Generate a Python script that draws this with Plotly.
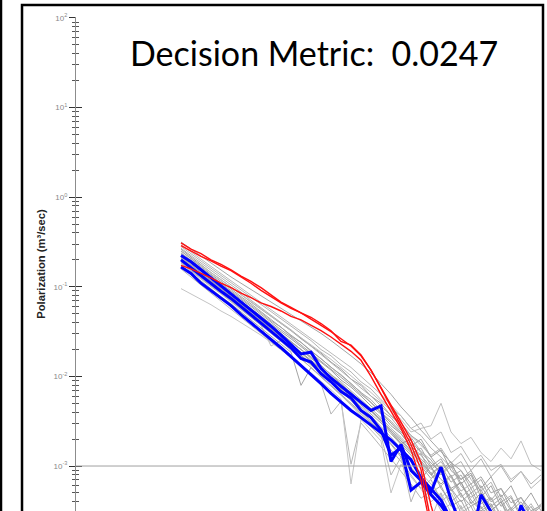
import plotly.graph_objects as go

# Time-gate index (gates are evenly spaced along the hidden time axis)
gates = list(range(37))

# log10 of polarization (m^3/sec)
red_a = [-0.54,-0.60,-0.66,-0.71,-0.77,-0.82,-0.89,-0.96,-1.04,-1.11,-1.18,-1.24,-1.29,-1.36,-1.43,-1.50,-1.58,-1.66,-1.77,-1.93,-2.13,-2.34,-2.54,-2.76,-3.04,-3.60,-4.20]
red_b = [-0.51,-0.58,-0.63,-0.70,-0.75,-0.81,-0.88,-0.94,-1.01,-1.09,-1.17,-1.23,-1.29,-1.34,-1.41,-1.49,-1.61,-1.65,-1.76,-1.93,-2.13,-2.32,-2.51,-2.71,-2.96,-3.44,-3.83,-4.20]
red_c = [-0.76,-0.80,-0.85,-0.90,-0.96,-1.01,-1.07,-1.12,-1.18,-1.22,-1.27,-1.33,-1.37,-1.43,-1.49,-1.56,-1.64,-1.72,-1.82,-2.00,-2.20,-2.39,-2.58,-2.82,-3.16,-3.71,-4.20]

blue_a = [-0.65,-0.72,-0.81,-0.90,-0.99,-1.07,-1.17,-1.26,-1.35,-1.44,-1.54,-1.65,-1.75,-1.73,-1.91,-2.02,-2.11,-2.19,-2.29,-2.38,-2.33,-2.95,-2.76,-3.05,-3.16,-3.29,-3.01,-3.38,-3.66,-3.88,-3.32,-3.51,-3.77,-3.83,-3.44,-3.66,-3.77]
blue_b = [-0.70,-0.79,-0.88,-0.96,-1.05,-1.13,-1.22,-1.31,-1.40,-1.50,-1.59,-1.68,-1.80,-1.84,-1.97,-2.06,-2.17,-2.24,-2.38,-2.46,-2.60,-2.88,-2.80,-3.27,-3.18,-3.32,-3.44,-3.60,-3.83,-4.00]
blue_c = [-0.78,-0.85,-0.96,-1.04,-1.12,-1.21,-1.31,-1.40,-1.50,-1.59,-1.68,-1.78,-1.88,-1.97,-2.08,-2.19,-2.29,-2.38,-2.46,-2.54,-2.63,-2.71,-2.82,-2.93,-3.13,-3.25,-3.38,-3.60,-3.83,-4.00]

gray_curves = [
    [-0.50,-0.58,-0.66,-0.74,-0.82,-0.89,-0.96,-1.03,-1.10,-1.17,-1.24,-1.31,-1.38,-1.45,-1.52,-1.60,-1.68,-1.77,-1.86,-1.96,-2.08,-2.20,-2.34,-2.46,-2.60,-2.72,-2.84,-2.96,-3.05,-3.20,-3.12,-3.30,-3.25,-3.41,-3.35,-3.50,-3.44],
    [-0.55,-0.63,-0.72,-0.80,-0.88,-0.96,-1.04,-1.12,-1.19,-1.28,-1.36,-1.43,-1.52,-1.60,-1.70,-1.77,-1.87,-1.95,-2.06,-2.14,-2.26,-2.36,-2.44,-2.58,-2.66,-2.80,-2.90,-3.02,-2.95,-3.15,-3.28,-3.18,-3.40,-3.33,-3.55,-3.42,-3.60],
    [-0.58,-0.67,-0.75,-0.84,-0.92,-1.00,-1.09,-1.17,-1.25,-1.33,-1.42,-1.49,-1.58,-1.66,-1.74,-1.84,-1.92,-2.03,-2.10,-2.22,-2.30,-2.44,-2.52,-2.66,-2.74,-2.90,-2.82,-3.05,-3.15,-3.08,-3.30,-3.45,-3.36,-3.58,-3.47,-3.62,-3.55],
    [-0.62,-0.70,-0.79,-0.87,-0.96,-1.04,-1.12,-1.21,-1.29,-1.38,-1.45,-1.55,-1.62,-1.72,-1.80,-1.90,-1.98,-2.08,-2.18,-2.26,-2.38,-2.46,-2.60,-2.68,-2.84,-2.93,-3.10,-3.00,-3.22,-3.35,-3.26,-3.50,-3.40,-3.65,-3.52,-3.70,-3.60],
    [-0.65,-0.74,-0.82,-0.91,-0.99,-1.08,-1.16,-1.24,-1.33,-1.41,-1.50,-1.58,-1.67,-1.75,-1.85,-1.93,-2.04,-2.12,-2.22,-2.33,-2.42,-2.55,-2.64,-2.78,-2.88,-3.02,-3.15,-3.25,-3.18,-3.38,-3.50,-3.42,-3.62,-3.55,-3.70,-3.62,-3.75],
    [-0.68,-0.77,-0.85,-0.94,-1.02,-1.11,-1.19,-1.28,-1.36,-1.45,-1.52,-1.62,-1.70,-1.80,-1.88,-1.98,-2.06,-2.16,-2.26,-2.36,-2.46,-2.58,-2.68,-2.80,-2.92,-3.04,-2.95,-3.12,-3.28,-3.20,-3.42,-3.35,-3.55,-3.48,-3.66,-3.58,-3.72],
    [-0.70,-0.79,-0.88,-0.96,-1.05,-1.13,-1.22,-1.30,-1.39,-1.47,-1.56,-1.64,-1.73,-1.82,-1.91,-2.00,-2.10,-2.19,-2.30,-2.38,-2.50,-2.60,-2.72,-2.84,-2.95,-3.08,-3.20,-3.10,-3.32,-3.45,-3.38,-3.58,-3.50,-3.70,-3.60,-3.78,-3.70],
    [-0.72,-0.81,-0.89,-0.98,-1.06,-1.15,-1.23,-1.32,-1.40,-1.49,-1.58,-1.67,-1.76,-1.85,-1.94,-2.03,-2.13,-2.22,-2.32,-2.42,-2.52,-2.64,-2.76,-2.88,-3.00,-3.14,-3.05,-3.25,-3.40,-3.30,-3.52,-3.45,-3.65,-3.56,-3.75,-3.66,-3.80],
    [-0.74,-0.83,-0.91,-1.00,-1.08,-1.17,-1.25,-1.34,-1.43,-1.66,-1.60,-1.69,-1.78,-1.88,-1.97,-2.06,-2.16,-2.26,-2.36,-2.47,-2.58,-2.70,-2.82,-2.95,-3.08,-3.20,-3.35,-3.25,-3.48,-3.40,-3.62,-3.55,-3.75,-3.66,-3.85,-3.75,-3.90],
    [-0.76,-0.85,-0.93,-1.02,-1.11,-1.19,-1.28,-1.37,-1.46,-1.55,-1.64,-1.73,-2.10,-1.90,-2.00,-2.10,-2.20,-2.30,-2.40,-2.52,-2.64,-2.76,-2.90,-3.02,-3.16,-3.30,-3.22,-3.45,-3.38,-3.60,-3.50,-3.72,-3.62,-3.82,-3.72,-3.90,-3.80],
    [-0.80,-0.89,-0.97,-1.06,-1.15,-1.24,-1.33,-1.42,-1.51,-1.60,-1.70,-1.79,-1.88,-1.98,-2.08,-2.42,-2.28,-2.98,-2.52,-2.65,-2.78,-2.92,-3.06,-3.20,-3.36,-3.28,-3.50,-3.42,-3.65,-3.56,-3.78,-3.68,-3.88,-3.78,-3.95,-3.85,-4.00],
    [-1.02,-1.08,-1.14,-1.20,-1.27,-1.33,-1.40,-1.47,-1.54,-1.62,-1.70,-1.78,-1.87,-1.96,-2.05,-2.15,-2.25,-3.20,-2.48,-2.60,-2.72,-3.30,-2.98,-3.12,-3.26,-3.40,-3.30,-3.52,-3.44,-3.66,-3.58,-3.78,-3.70,-3.88,-3.80,-3.95,-3.88],
    [-0.60,-0.68,-0.76,-0.84,-0.92,-1.00,-1.08,-1.16,-1.24,-1.32,-1.40,-1.48,-1.56,-1.64,-1.72,-1.81,-1.90,-1.99,-2.08,-2.18,-2.28,-2.38,-2.48,-2.62,-2.58,-2.55,-2.30,-2.62,-2.75,-2.68,-2.85,-2.95,-2.80,-2.92,-2.72,-2.98,-3.05],
    [-0.57,-0.65,-0.73,-0.82,-0.90,-0.98,-1.06,-1.15,-1.23,-1.31,-1.40,-1.48,-1.57,-1.66,-1.75,-1.84,-1.94,-2.03,-2.13,-2.22,-2.33,-2.44,-2.55,-2.66,-2.76,-2.88,-2.80,-2.97,-2.86,-3.05,-2.92,-3.12,-3.00,-3.18,-3.06,-3.20,-3.10],
    [-0.63,-0.72,-0.80,-0.89,-0.97,-1.06,-1.14,-1.22,-1.31,-1.39,-1.48,-1.56,-1.65,-1.73,-1.83,-1.91,-2.01,-2.10,-2.20,-2.29,-2.40,-2.50,-2.62,-2.72,-2.85,-2.96,-3.08,-2.98,-3.15,-3.05,-3.25,-3.12,-3.35,-3.22,-3.45,-3.30,-3.50],
    [-0.67,-0.76,-0.84,-0.93,-1.01,-1.10,-1.18,-1.27,-1.35,-1.44,-1.52,-1.61,-1.70,-1.78,-1.88,-1.97,-2.07,-2.17,-2.27,-2.37,-2.48,-2.60,-2.70,-2.83,-2.94,-3.08,-3.00,-3.18,-3.10,-3.30,-3.22,-3.40,-3.32,-3.50,-3.40,-3.55,-3.45],
    [-0.69,-0.78,-0.86,-0.95,-1.04,-1.12,-1.21,-1.29,-1.38,-1.46,-1.55,-1.63,-1.72,-1.81,-1.90,-1.99,-2.08,-2.18,-2.28,-2.38,-2.49,-2.62,-2.75,-2.70,-2.98,-3.10,-3.00,-3.28,-3.18,-3.42,-3.30,-3.50,-3.40,-3.60,-3.48,-3.62,-3.55],
    [-0.73,-0.82,-0.90,-0.99,-1.07,-1.16,-1.24,-1.33,-1.41,-1.50,-1.59,-1.68,-1.77,-1.86,-1.95,-2.04,-2.14,-2.24,-2.34,-2.44,-2.56,-2.68,-2.80,-2.92,-2.86,-3.10,-3.22,-3.12,-3.35,-3.25,-3.48,-3.36,-3.56,-3.46,-3.62,-3.52,-3.66],
    [-0.66,-0.75,-0.84,-0.93,-1.02,-1.10,-1.19,-1.28,-1.37,-1.46,-1.56,-1.66,-1.76,-1.86,-1.96,-2.06,-2.16,-2.27,-2.38,-2.50,-2.62,-2.75,-2.88,-3.02,-3.15,-3.00,-3.25,-3.40,-3.30,-3.55,-3.45,-3.68,-3.58,-3.75,-3.65,-3.82,-3.72],
    [-0.70,-0.79,-0.87,-0.96,-1.05,-1.14,-1.23,-1.32,-1.41,-1.50,-1.60,-1.70,-1.80,-1.90,-2.00,-2.10,-2.21,-2.32,-2.44,-2.56,-2.68,-2.82,-2.95,-3.10,-3.25,-3.15,-3.40,-3.30,-3.52,-3.45,-3.68,-3.58,-3.80,-3.70,-3.88,-3.78,-3.92],
    [-0.53,-0.61,-0.69,-0.77,-0.85,-0.93,-1.01,-1.09,-1.17,-1.25,-1.33,-1.41,-1.49,-1.57,-1.65,-1.73,-1.81,-1.90,-2.00,-2.10,-2.20,-2.32,-2.44,-2.58,-2.52,-2.70,-2.62,-2.85,-2.78,-2.96,-2.88,-3.05,-2.98,-3.15,-3.06,-3.25,-3.15],
    [-0.60,-0.69,-0.77,-0.86,-0.94,-1.03,-1.11,-1.19,-1.28,-1.36,-1.45,-1.54,-1.62,-1.71,-1.80,-1.89,-1.98,-2.08,-2.18,-2.29,-2.40,-2.52,-2.64,-2.78,-2.70,-2.90,-3.05,-2.95,-3.20,-3.10,-3.35,-3.22,-3.45,-3.35,-3.58,-3.45,-3.65],
    [-0.71,-0.80,-0.88,-0.97,-1.06,-1.15,-1.24,-1.33,-1.42,-1.52,-1.61,-1.71,-1.80,-1.90,-2.00,-2.10,-2.20,-2.31,-2.42,-2.54,-2.66,-3.10,-2.90,-3.40,-3.12,-3.60,-3.30,-3.75,-3.45,-3.85,-3.55,-3.90,-3.65,-3.95,-3.70,-4.00,-3.80],
    [-0.64,-0.73,-0.81,-0.90,-0.98,-1.07,-1.16,-1.25,-1.33,-1.42,-1.51,-1.60,-1.70,-1.79,-1.88,-1.98,-2.08,-2.18,-2.28,-2.39,-2.50,-2.62,-2.74,-2.86,-2.80,-3.00,-2.92,-3.12,-3.05,-3.25,-3.15,-3.38,-3.25,-3.48,-3.35,-3.55,-3.42],
]
gray_colors = ["#a6a6a6", "#b4b4b4", "#9e9e9e", "#acacac", "#a0a0a0", "#b0b0b0", "#9c9c9c", "#a8a8a8", "#bcbcbc",
               "#a4a4a4", "#b6b6b6", "#c4c4c4", "#c0c0c0", "#b2b2b2", "#a2a2a2", "#aaaaaa", "#9a9a9a", "#aeaeae",
               "#a5a5a5", "#b1b1b1", "#bababa", "#a3a3a3", "#b8b8b8", "#a9a9a9"]

decades = [-3, -2, -1, 0, 1, 2]
tick_text = ["10<sup>-3</sup>", "10<sup>-2</sup>", "10<sup>-1</sup>", "10<sup>0</sup>", "10<sup>1</sup>", "10<sup>2</sup>"]
annotation_text = "Decision Metric:&nbsp; 0.0247"
y_title = "<b>Polarization (m³/sec)</b>"


def pol(logs):
    return [10 ** v for v in logs]


fig = go.Figure()
for vals, col in zip(gray_curves, gray_colors):
    fig.add_trace(go.Scatter(x=gates[:len(vals)], y=pol(vals), mode="lines",
                             line=dict(color=col, width=1), showlegend=False, hoverinfo="skip"))
for vals in (blue_a, blue_b, blue_c):
    fig.add_trace(go.Scatter(x=gates[:len(vals)], y=pol(vals), mode="lines",
                             line=dict(color="#0000ff", width=3), showlegend=False))
for vals in (red_c, red_b, red_a):
    fig.add_trace(go.Scatter(x=gates[:len(vals)], y=pol(vals), mode="lines",
                             line=dict(color="#ff1010", width=1.4), showlegend=False))
# invisible trace so the overlaying axis (inside ticks) is drawn
fig.add_trace(go.Scatter(x=[gates[0]], y=[1.0], yaxis="y2", mode="markers",
                         marker=dict(opacity=0), showlegend=False, hoverinfo="skip"))

major_vals = [10.0 ** d for d in decades]
minor_vals = [m * 10.0 ** d for d in [-4] + decades for m in range(2, 10)]
yrange = [-3.502, 2.011]


def y_axis(side_ticks, labels):
    return dict(type="log", range=yrange, tickmode="array", tickvals=major_vals,
                ticktext=tick_text, showticklabels=labels, automargin=False,
                showgrid=False, zeroline=False, showline=True, linecolor="#8c8c8c", linewidth=1,
                ticks=side_ticks, tickcolor="#333333", tickwidth=1.2, ticklen=6,
                minor=dict(tickmode="array", tickvals=minor_vals, ticks=side_ticks, ticklen=3,
                           tickcolor="#555555", tickwidth=1, showgrid=False))


yaxis = y_axis("outside", True)
yaxis.update(tickfont=dict(family="Liberation Sans", size=8, color="#8a8a8a"),
             title=dict(text=y_title, standoff=5,
                        font=dict(family="Liberation Sans", size=11.2, color="#222222")))
yaxis2 = y_axis("inside", False)
yaxis2.update(overlaying="y", side="left", anchor="x")

fig.update_layout(
    template="none",
    width=547, height=511,
    margin=dict(l=76, r=4, t=17, b=0, autoexpand=False),
    paper_bgcolor="white", plot_bgcolor="white",
    xaxis=dict(range=[-10.5, 36.2], showticklabels=False, ticks="", showgrid=False, automargin=False,
               zeroline=False, showline=True, linecolor="#aaaaaa", linewidth=1),
    yaxis=yaxis,
    yaxis2=yaxis2,
    font=dict(family="Liberation Sans"),
    showlegend=False,
)

# 10^-3 reference line
fig.add_shape(type="line", xref="x domain", yref="y", x0=0, x1=1, y0=1e-3, y1=1e-3,
              line=dict(color="#a0a0a0", width=1))

# outer frame of the panel and edge of the neighbouring panel
fig.add_shape(type="rect", xref="paper", yref="paper", x0=-0.1156, x1=1.0, y0=-0.1, y1=1.0243,
              line=dict(color="black", width=2.5), fillcolor="rgba(0,0,0,0)", layer="above")
fig.add_shape(type="line", xref="paper", yref="paper", x0=-0.1606, x1=-0.1606, y0=-0.1, y1=1.05,
              line=dict(color="black", width=2.5))

fig.add_annotation(text=annotation_text, xref="paper", yref="paper", x=0.509, y=0.929,
                   xanchor="center", yanchor="middle", showarrow=False,
                   font=dict(family="Lato", size=34, color="black"))

fig.write_html("out.html")
